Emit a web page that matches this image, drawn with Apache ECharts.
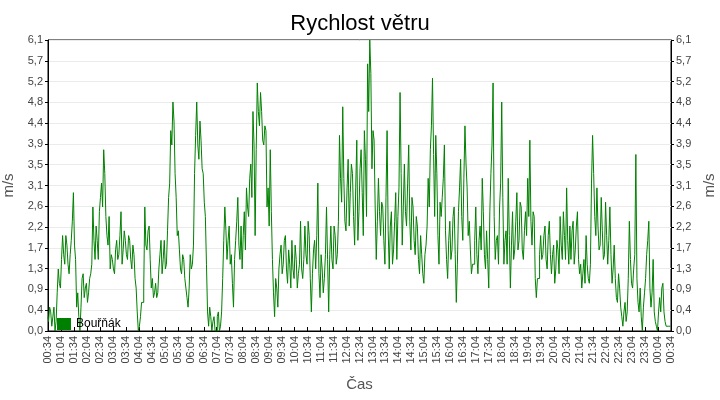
<!DOCTYPE html>
<html>
<head>
<meta charset="utf-8">
<script src="https://cdn.jsdelivr.net/npm/echarts@6/dist/echarts.min.js"></script>
<style>
  html, body { margin: 0; padding: 0; background: #fff; }
  #chart { width: 720px; height: 400px; }
</style>
</head>
<body>
<div id="chart"></div>
<script>
// Bouřňák, rychlost větru od 00:34 do 00:34
const startMinute = 34;
// hodnoty v časech 00:34, 00:39, 00:44, ... (krok 5 min)
const windOnStep = [
  0.3, 0.5, 0.1, 0.5, 0.2, 1.3, 0.9, 2.0, 1.4, 1.8,
  1.2, 1.9, 2.9, 1.5, 0.8, 0.0, 1.1, 0.7, 1.0, 0.8,
  1.2, 2.6, 1.5, 1.9, 2.5, 3.1, 3.8, 2.4, 1.8, 1.3,
  1.5, 1.2, 1.9, 1.6, 2.5, 1.7, 1.9, 1.5, 1.9, 1.3,
  1.6, 0.9, 0.0, 0.3, 0.6, 2.6, 1.7, 2.2,
  0.9, 0.7, 1.0, 0.8, 1.6, 1.2, 1.9, 1.4, 2.8, 4.2,
  4.8, 3.3, 2.0, 1.7, 1.2, 1.5, 0.9, 0.5, 1.6, 1.4,
  3.3, 4.8, 3.6, 4.0, 3.3, 2.4, 0.4, 0.5, 0.0, 0.3,
  0.0, 0.4, 0.1, 1.1, 2.6, 1.5, 2.2, 1.6, 0.5, 1.9,
  2.8, 1.5, 1.3, 2.5, 3.0, 2.4, 3.5, 4.6,
  2.0, 5.2, 4.3, 4.6, 3.9, 4.2, 3.0, 3.8, 1.5, 0.3,
  0.9, 1.3, 1.8, 1.4, 2.0, 1.0, 1.4, 1.9, 1.1, 1.5,
  1.2, 2.3, 1.1, 2.2, 1.4, 2.0, 0.4, 1.7, 1.3, 3.1,
  0.7, 1.3, 1.1, 2.6, 0.4, 2.2, 1.3, 2.0, 1.6, 4.1,
  2.7, 3.2, 2.1, 3.6, 2.9, 3.3, 1.8, 4.0, 2.5,
  3.8, 2.0, 3.6, 5.6, 6.1, 3.4, 4.0, 1.5, 3.2, 2.0,
  2.6, 1.4, 4.2, 1.3, 2.5, 1.7, 2.9, 2.4, 5.0, 1.8,
  3.5, 2.2, 3.9, 1.7, 2.6, 1.6, 2.2, 1.2, 1.6, 1.0,
  1.8, 3.2, 3.8, 5.3, 2.4, 3.3, 1.4, 2.4, 3.2, 2.1,
  1.1, 2.3, 1.7, 2.6, 0.6, 2.5, 3.6, 1.9,
  4.3, 3.0, 2.3, 1.2, 1.4, 2.6, 1.2, 2.2, 3.2, 1.6,
  2.1, 0.9, 3.3, 5.2, 1.5, 2.0, 2.6, 4.8, 1.4, 2.1,
  3.2, 0.9, 2.5, 1.7, 2.9, 1.9, 2.6, 1.5, 2.5, 3.2,
  4.0, 1.8, 2.4, 0.7, 1.1, 2.0, 1.6, 2.2, 1.3, 2.3,
  1.2, 1.8, 1.3, 1.7, 2.4, 1.5, 2.0, 3.0, 1.4,
  1.5, 2.3, 1.7, 2.5, 1.2, 0.9, 1.5, 2.0, 1.1, 1.4,
  4.1, 2.4, 3.0, 1.7, 2.8, 1.5, 2.7, 1.4, 2.6, 1.0,
  1.8, 0.7, 1.2, 0.5, 0.1, 0.6, 0.4, 2.3, 1.0, 1.3,
  3.7, 0.6, 0.9, 0.0, 0.8, 1.6, 2.3, 0.5, 1.5, 0.2,
  0.0, 0.7, 0.9, 0.4, 0.1, 0.1, 0.1
];
// hodnoty o 2,5 min později: 00:36:30, 00:41:30, ...
const windHalfStep = [
  0.2, 0.4, 0.3, 0.0, 0.8, 1.0, 1.5, 1.6, 2.0, 1.4,
  1.6, 2.3, 1.8, 0.5, 0.3, 0.5, 1.2, 0.9, 0.6, 1.1,
  1.4, 1.9, 2.2, 1.5, 2.8, 2.6, 3.3, 2.0, 2.4, 1.6,
  1.3, 1.7, 1.5, 2.0, 1.4, 2.1, 1.6, 2.0, 1.5, 1.8,
  1.1, 0.4, 0.1, 0.6, 0.9, 1.8, 2.1, 1.5,
  1.1, 0.8, 0.7, 1.3, 1.9, 1.5, 1.3, 2.1, 3.1, 3.9,
  4.4, 2.8, 2.1, 1.3, 1.6, 1.1, 0.7, 0.9, 1.3, 1.8,
  4.1, 3.9, 4.4, 3.4, 2.7, 1.4, 0.1, 0.3, 0.2, 0.0,
  0.3, 0.0, 0.4, 1.9, 2.1, 1.9, 1.4, 1.0, 1.5, 2.3,
  1.8, 2.2, 2.0, 1.7, 2.6, 3.2, 2.8, 3.9,
  3.8, 4.6, 5.0, 4.0, 4.3, 2.6, 2.2, 2.5, 0.8, 1.1,
  0.5, 1.6, 1.2, 1.9, 1.3, 1.7, 0.9, 1.3, 1.8, 0.9,
  1.4, 1.3, 1.5, 1.6, 2.3, 1.1, 1.2, 1.9, 2.0, 1.2,
  1.6, 0.8, 1.6, 1.5, 1.6, 1.5, 2.2, 1.4, 2.3, 3.2,
  4.7, 2.3, 3.0, 2.2, 3.5, 2.4, 3.0, 1.9, 3.4,
  2.9, 4.2, 2.4, 4.6, 5.4, 4.2, 2.6, 2.3, 2.5, 2.7,
  1.9, 2.8, 2.1, 2.2, 1.4, 2.3, 1.5, 3.0, 3.3, 2.6,
  2.5, 3.1, 2.3, 2.8, 1.9, 2.4, 1.5, 2.0, 1.2, 1.6,
  2.2, 2.6, 4.3, 3.7, 4.1, 2.0, 2.7, 2.8, 3.9, 1.5,
  1.9, 1.5, 2.4, 1.6, 1.4, 3.0, 2.4, 3.2,
  3.5, 2.0, 1.7, 1.4, 1.9, 1.6, 1.9, 1.7, 2.5, 1.3,
  1.5, 2.5, 3.9, 2.4, 1.9, 1.4, 3.1, 2.8, 1.9, 1.4,
  2.0, 1.8, 1.5, 2.3, 1.7, 2.7, 1.7, 2.1, 2.0, 2.4,
  2.3, 2.5, 1.1, 1.1, 1.6, 1.5, 2.0, 1.5, 2.0, 1.6,
  1.6, 1.0, 1.9, 1.2, 1.8, 2.5, 1.5, 1.9, 2.2,
  2.1, 1.4, 2.2, 1.5, 1.4, 1.2, 1.0, 1.4, 1.0, 3.1,
  3.3, 2.0, 2.2, 1.8, 2.1, 1.6, 2.0, 1.9, 1.6, 1.3,
  1.1, 0.6, 0.9, 0.3, 0.4, 0.2, 1.1, 1.5, 0.9, 1.6,
  1.1, 0.4, 0.3, 0.5, 1.1, 1.9, 0.9, 0.8, 0.4, 0.1,
  0.4, 0.4, 1.0, 0.2, 0.1, 0.1
];
const yMaxValue = 6.1;
const yTickCount = 14;

const windSpeed = [];
const times = [];
windOnStep.forEach((v, i) => {
  const sec = (startMinute * 60 + i * 300);
  windSpeed.push(v);
  times.push(sec);
  if (i < windHalfStep.length) {
    windSpeed.push(windHalfStep[i]);
    times.push(sec + 150);
  }
});
const timeLabels = times.map((s) => {
  s = s % 86400;
  const hh = String(Math.floor(s / 3600)).padStart(2, '0');
  const mm = String(Math.floor(s / 60) % 60).padStart(2, '0');
  const ss = String(s % 60).padStart(2, '0');
  return hh + ':' + mm + ':' + ss;
});

const yStep = yMaxValue / yTickCount;
const font = '"Liberation Sans", Arial, sans-serif';
// 3,05 se má zaokrouhlit nahoru jako v originálu
const fmt = (v) => (Math.round(v * 10 + 1e-6) / 10).toFixed(1).replace('.', ',');

const yAxisBase = {
  type: 'value',
  min: 0,
  max: yStep * yTickCount,
  interval: yStep,
  nameLocation: 'middle',
  nameTextStyle: { color: '#555', fontSize: 15, fontFamily: font },
  axisLine: { show: true, lineStyle: { color: '#000', width: 1 } },
  axisTick: { show: true, length: 3, lineStyle: { color: '#000' } },
  axisLabel: { color: '#444', fontSize: 11, fontFamily: font, margin: 5, formatter: fmt },
};

const chart = echarts.init(document.getElementById('chart'));
chart.setOption({
  animation: false,
  backgroundColor: '#fff',
  title: {
    text: 'Rychlost větru',
    left: 'center',
    top: 8,
    textStyle: { color: '#000', fontSize: 22, fontWeight: 'normal', fontFamily: font },
  },
  legend: {
    left: 52,
    top: 313,
    icon: 'rect',
    itemWidth: 14,
    itemHeight: 12,
    itemGap: 6,
    textStyle: { color: '#000', fontSize: 12, fontFamily: font },
    data: ['Bouřňák'],
  },
  grid: {
    left: 48,
    right: 49,
    top: 40,
    bottom: 69,
    containLabel: false,
    outerBoundsMode: 'none',
    show: true,
    borderColor: '#000',
    borderWidth: 1,
  },
  xAxis: {
    type: 'category',
    data: timeLabels,
    boundaryGap: false,
    name: 'Čas',
    nameLocation: 'middle',
    nameGap: 46,
    nameTextStyle: { color: '#555', fontSize: 15, fontFamily: font },
    axisLine: { lineStyle: { color: '#000', width: 1 } },
    axisTick: { interval: 11, inside: true, length: 4, lineStyle: { color: '#000' } },
    axisLabel: {
      interval: 11, rotate: 90, color: '#444', fontSize: 11, fontFamily: font, margin: 5,
      formatter: (v) => v.slice(0, 5),
    },
    splitLine: { show: false },
  },
  yAxis: [
    Object.assign({}, yAxisBase, {
      name: 'm/s',
      nameGap: 24,
      position: 'left',
      splitLine: { show: true, lineStyle: { color: '#ebebeb', width: 1 } },
    }),
    Object.assign({}, yAxisBase, {
      name: 'm/s',
      nameGap: 28,
      position: 'right',
      splitLine: { show: false },
    }),
  ],
  series: [
    {
      name: 'Bouřňák',
      type: 'line',
      step: 'middle',
      data: windSpeed,
      yAxisIndex: 0,
      showSymbol: false,
      symbol: 'none',
      color: '#008000',
      lineStyle: { color: '#008000', width: 1 },
    },
  ],
});
</script>
</body>
</html>
